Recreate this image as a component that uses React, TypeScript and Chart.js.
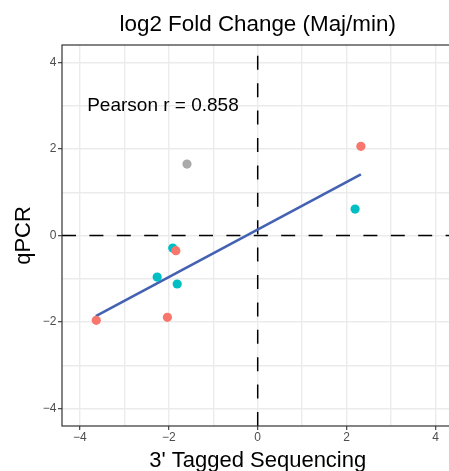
import React, { useEffect, useRef } from "react";
import { Chart, registerables } from "chart.js";

Chart.register(...registerables);

// ---- Data ----
const redX = [2.32, -1.84, -3.63, -2.03];
const redY = [2.06, -0.35, -1.96, -1.89];
const tealX = [2.19, -1.91, -2.26, -1.81];
const tealY = [0.61, -0.29, -0.96, -1.12];
const grayX = [-1.59];
const grayY = [1.65];
const fitX = [-3.64, 2.32];
const fitY = [-1.86, 1.41];

const gridValues = [-4, -3, -2, -1, 0, 1, 2, 3, 4];
const majorValues = [-4, -2, 0, 2, 4];
const majorLabels = ["\u22124", "\u22122", "0", "2", "4"];

const axisMin = -4.4;
const axisMax = 4.4;

const titleText = "log2 Fold Change (Maj/min)";
const xTitle = "3' Tagged Sequencing";
const yTitle = "qPCR";
const annotationText = "Pearson r = 0.858";
const annotationX = -2.13;
const annotationY = 3.0;

const FONT = "'Liberation Sans', Arial, Helvetica, sans-serif";

const zip = (xs: number[], ys: number[]) => xs.map((x, i) => ({ x, y: ys[i] }));

const labelFor = (v: number) => {
  const i = majorValues.indexOf(v);
  return i >= 0 ? majorLabels[i] : "";
};

export default function App() {
  const ref = useRef<HTMLCanvasElement | null>(null);

  useEffect(() => {
    if (!ref.current) return;

    const panelPlugin = {
      id: "panelExtras",
      afterDraw(chart: any) {
        const { ctx, chartArea, scales } = chart;
        ctx.save();
        // annotation text
        ctx.font = `19px ${FONT}`;
        ctx.fillStyle = "#000000";
        ctx.textAlign = "center";
        ctx.textBaseline = "middle";
        ctx.fillText(
          annotationText,
          scales.x.getPixelForValue(annotationX),
          scales.y.getPixelForValue(annotationY)
        );
        // panel border
        ctx.strokeStyle = "#333333";
        ctx.lineWidth = 1.2;
        ctx.strokeRect(
          chartArea.left,
          chartArea.top,
          chartArea.right - chartArea.left,
          chartArea.bottom - chartArea.top
        );
        ctx.restore();
      },
    };

    const scaleCommon = (axis: "x" | "y") => ({
      type: "linear" as const,
      min: axisMin,
      max: axisMax,
      afterBuildTicks: (scale: any) => {
        scale.ticks = gridValues.map((v) => ({ value: v }));
      },
      afterFit: (scale: any) => {
        if (axis === "y") scale.width = 62;
        else scale.height = 45;
      },
      border: { display: false },
      grid: {
        color: "#EBEBEB",
        lineWidth: 1.4,
        drawTicks: true,
        tickLength: 4,
        tickWidth: 1.1,
        tickColor: (ctx: any) =>
          ctx.tick && majorValues.indexOf(ctx.tick.value) >= 0 ? "#333333" : "rgba(0,0,0,0)",
      },
      ticks: {
        autoSkip: false,
        maxRotation: 0,
        minRotation: 0,
        padding: axis === "y" ? 1.5 : 0,
        color: "#4D4D4D",
        font: { size: 12, family: FONT },
        callback: (value: any) => labelFor(Number(value)),
      },
    });

    const chart = new Chart(ref.current, {
      type: "scatter",
      data: {
        datasets: [
          {
            label: "red",
            data: zip(redX, redY),
            backgroundColor: "#F8766D",
            borderWidth: 0,
            pointRadius: 4.6,
            order: 1,
          },
          {
            label: "teal",
            data: zip(tealX, tealY),
            backgroundColor: "#00BFC4",
            borderWidth: 0,
            pointRadius: 4.6,
            order: 2,
          },
          {
            label: "gray",
            data: zip(grayX, grayY),
            backgroundColor: "#AAAAAA",
            borderWidth: 0,
            pointRadius: 4.6,
            order: 3,
          },
          {
            label: "fit",
            data: zip(fitX, fitY),
            showLine: true,
            borderColor: "#4462B2",
            borderWidth: 2.6,
            pointRadius: 0,
            order: 4,
          },
          {
            label: "hline",
            data: zip([axisMin, axisMax], [0, 0]),
            showLine: true,
            borderColor: "#000000",
            borderWidth: 1.5,
            borderDash: [14, 13.4],
            pointRadius: 0,
            order: 5,
          },
          {
            label: "vline",
            data: zip([0, 0], [axisMin, axisMax]),
            showLine: true,
            borderColor: "#000000",
            borderWidth: 1.5,
            borderDash: [14, 13.4],
            pointRadius: 0,
            order: 6,
          },
        ],
      },
      options: {
        responsive: false,
        animation: false,
        devicePixelRatio: 1,
        layout: { padding: { top: 0, left: 0, right: 2, bottom: 0 } },
        font: { family: FONT },
        plugins: {
          legend: { display: false },
          tooltip: { enabled: false },
          title: {
            display: true,
            text: titleText,
            fullSize: false,
            color: "#000000",
            font: { size: 22.4, family: FONT, weight: "normal", lineHeight: 1.2 },
            padding: { top: 11.8, bottom: 6.32 },
          },
        },
        scales: {
          x: {
            ...scaleCommon("x"),
            position: "bottom",
            title: {
              display: true,
              text: xTitle,
              color: "#000000",
              font: { size: 22, family: FONT, lineHeight: 0.9 },
              padding: { top: 0, bottom: 0.2 },
            },
          },
          y: {
            ...scaleCommon("y"),
            position: "left",
            title: {
              display: true,
              text: yTitle,
              color: "#000000",
              font: { size: 22, family: FONT, lineHeight: 1.2 },
              padding: { top: 10.9, bottom: 0 },
            },
          },
        },
      } as any,
      plugins: [panelPlugin],
    });

    return () => chart.destroy();
  }, []);

  return (
    <div
      style={{
        position: "fixed",
        left: 0,
        top: 0,
        width: 449,
        height: 471,
        overflow: "hidden",
        background: "#FFFFFF",
      }}
    >
      <canvas ref={ref} width={458} height={471} style={{ display: "block", width: 458, height: 471 }} />
    </div>
  );
}
